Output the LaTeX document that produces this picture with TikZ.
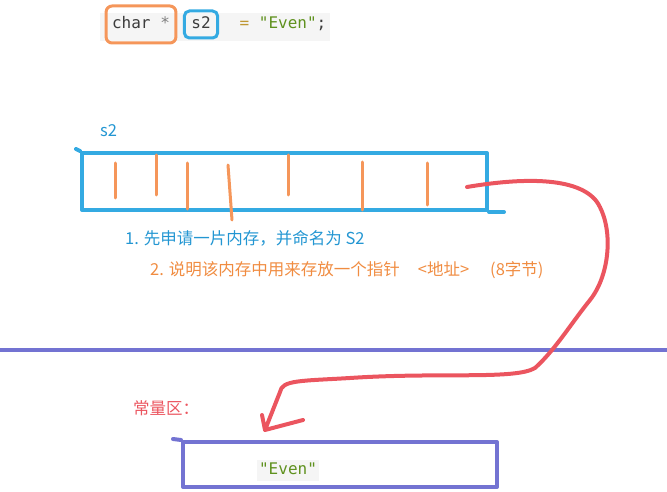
\documentclass[tikz,border=0pt]{standalone}
\usepackage{fontspec}
\setmainfont{Noto Sans CJK SC}
\setmonofont{DejaVu Sans Mono}
\usepackage{tikz}
\usetikzlibrary{arrows.meta,calc}

\definecolor{penblue}{RGB}{52,170,226}
\definecolor{txtblue}{RGB}{35,150,210}
\definecolor{penorange}{RGB}{245,150,90}
\definecolor{txtorange}{RGB}{240,140,65}
\definecolor{penred}{RGB}{235,85,95}
\definecolor{penpurple}{RGB}{115,115,210}
\definecolor{codegreen}{RGB}{95,145,30}
\definecolor{codeolive}{RGB}{190,150,50}
\definecolor{codedark}{RGB}{60,60,60}
\definecolor{codebg}{RGB}{245,245,245}

\begin{document}
\begin{tikzpicture}[x=1pt,y=-1pt,
    label/.style={font=\fontsize{16.5}{19}\selectfont, inner sep=0pt},
    code/.style={font=\ttfamily\fontsize{16}{19}\selectfont, text height=12pt, text depth=3pt},
    pen/.style={line width=4pt, line cap=round, line join=round}]
\useasboundingbox (0,0) rectangle (667,492);

% Code line on top
\fill[codebg] (100,13) rectangle (330,41);
\node[code, anchor=base, draw=penorange, line width=3pt, rounded corners=6pt,
      inner xsep=6pt, inner ysep=11pt, text=codedark] (ctype) at (141,29) {char \textcolor{gray}{*}};
\node[code, anchor=base, draw=penblue, line width=3pt, rounded corners=5pt,
      inner xsep=7pt, inner ysep=6pt, text=codedark] (cname) at (201,29) {s2};
\node[code, anchor=base, inner sep=0pt] (cval) at (283,29)
      {\textcolor{codeolive}{=} \textcolor{codegreen}{"Even"}\textcolor{codedark}{;}};

% Memory block s2
\node[label, text=txtblue, anchor=west] (mname) at (100,131) {s2};
\node[pen, draw=penblue, minimum width=405pt, minimum height=57pt, inner sep=0pt] (mem) at (284.5,181.5) {};
\draw[pen, penblue] (mem.south east) -- ++(15,0);
\draw[pen, penblue] (mem.north west) -- ++(-4,-2);

% Byte marks
\foreach \x/\ya/\xb/\yb in {115/163/115/198, 156/155/156/195, 187/163/187/209, 228/165/232/220,
                            288/155/288/195, 362/162/362/210, 427/163/427/205}
    \draw[line width=3pt, line cap=round, penorange] (\x,\ya) -- (\xb,\yb);

% Notes
\node[label, text=txtblue, anchor=west] (note1) at (125,238) {1. 先申请一片内存，并命名为 S2};
\node[label, text=txtorange, anchor=west] (note2) at (150,270)
      {2. 说明该内存中用来存放一个指针\hspace{18pt}<地址>\hspace{21pt}(8字节)};

% Divider
\draw[pen, penpurple] (0,350) -- (667,350);

% Constant area
\node[label, text=penred, anchor=west] (cname2) at (133,408) {常量区：};
\node[pen, draw=penpurple, minimum width=314pt, minimum height=45pt, inner sep=0pt] (evenbox) at (340,464.5) {};
\draw[pen, penpurple] (evenbox.north west) -- ++(-8,-1);
\node[code, fill=codebg, inner xsep=2pt, inner ysep=3pt, text=codegreen] (strval) at (288,470) {"Even"};

% Pointer arrow
\coordinate (ptr) at (467,187);
\coordinate (tip) at (265,430);
\draw[pen, penred] (ptr) .. controls (520,178) and (578,176) .. (597,202)
    .. controls (614,228) and (610,275) .. (590,300)
    .. controls (570,325) and (555,350) .. (535,368)
    .. controls (515,380) and (440,372) .. (350,378)
    .. controls (300,381) and (282,380) .. (280,392) -- (tip)
    (tip) -- ++(-3,-15) (tip) -- ++(38,-10);

\end{tikzpicture}
\end{document}
